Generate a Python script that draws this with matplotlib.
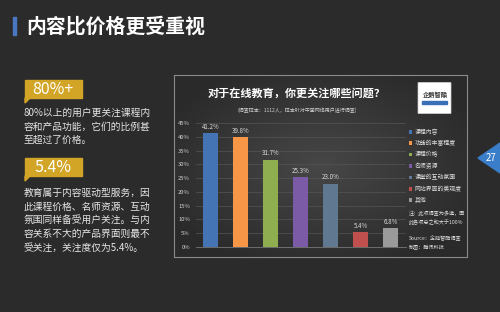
import matplotlib.pyplot as plt
import numpy as np
from matplotlib.patches import Rectangle, Polygon, FancyBboxPatch
from matplotlib.colors import LinearSegmentedColormap

plt.rcParams['font.family'] = ['Noto Sans CJK SC', 'DejaVu Sans']

# data
categories = ['课程内容', '功能的丰富程度', '课程价格', '名师资源', '课堂的互动氛围', '网站界面的美观度', '其他']
values = [41.2, 39.8, 31.7, 25.3, 23.0, 5.4, 6.8]
colors = ['#4574b4', '#f79646', '#8eae4f', '#7b5ba6', '#607890', '#c0504d', '#9a9a9a']
yticks = [0, 5, 10, 15, 20, 25, 30, 35, 40, 45]

W, H = 500, 312
def fx(x): return x / W
def fy(y): return 1 - y / H

fig = plt.figure(figsize=(5, 3.12), dpi=100)
fig.patch.set_facecolor('#2b2b2b')

# title
fig.patches.append(Rectangle((fx(13), fy(35)), 3 / W, 18 / H, transform=fig.transFigure,
                             color='#4a78c0'))
fig.text(fx(26), fy(26), '内容比价格更受重视', color='white', fontsize=14.3,
         fontweight='bold', va='center', ha='left')

# left side text blocks
def gold_tag(y0, txt):
    fig.patches.append(Rectangle((fx(25), fy(y0 + 18)), 57 / W, 18 / H,
                                 transform=fig.transFigure, color='#d3a526'))
    fig.patches.append(Polygon([(fx(25), fy(y0 + 18)), (fx(30), fy(y0 + 18)), (fx(25), fy(y0 + 23))],
                               transform=fig.transFigure, color='#d3a526'))
    fig.text(fx(53), fy(y0 + 9.5), txt, color='white', fontsize=11.5, ha='center', va='center')

gold_tag(80, '80%+')
fig.text(fx(24), fy(108), '80%以上的用户更关注课程内\n容和产品功能，它们的比例甚\n至超过了价格。',
         color='#e6e6e6', fontsize=7, ha='left', va='top', linespacing=1.45)
gold_tag(158, '5.4%')
fig.text(fx(24), fy(188), '教育属于内容驱动型服务，因\n此课程价格、名师资源、互动\n氛围同样备受用户关注。与内\n容关系不大的产品界面则最不\n受关注，关注度仅为5.4%。',
         color='#e6e6e6', fontsize=7, ha='left', va='top', linespacing=1.45)

# chart panel with radial gradient
bg = fig.add_axes([fx(174), fy(257), 293 / W, 182 / H])
gx, gy = np.meshgrid(np.linspace(-1, 1, 200), np.linspace(-1, 1, 120))
r = np.clip(np.sqrt(gx ** 2 + gy ** 2) / 1.2, 0, 1)
panel_cmap = LinearSegmentedColormap.from_list('panel', ['#474747', '#2a2a2a'])
bg.imshow(r, cmap=panel_cmap, vmin=0, vmax=1, aspect='auto', extent=(0, 1, 0, 1))
bg.set_xticks([]); bg.set_yticks([])
for s in bg.spines.values():
    s.set_color('#8a8a8a'); s.set_linewidth(0.8)

fig.text(fx(297), fy(93), '对于在线教育，你更关注哪些问题？', color='white', fontsize=8,
         fontweight='bold', ha='center', va='center')
fig.text(fx(297), fy(110), '(调查样本：1112人，样本针对中国网络用户进行调查)', color='#cfcfcf',
         fontsize=3.6, ha='center', va='center')

# logo box
fig.patches.append(FancyBboxPatch((fx(419), fy(113)), 31 / W, 30 / H, boxstyle='round,pad=0.002',
                                  transform=fig.transFigure, fc='white', ec='#cccccc', lw=0.5))
fig.text(fx(435), fy(95), '企鹅智酷', color='#333333', fontsize=4.5, ha='center', va='center',
         fontweight='bold')
fig.patches.append(Rectangle((fx(422), fy(104)), 25 / W, 3 / H, transform=fig.transFigure,
                             color='#3a6fb5'))

# bar chart
ax = fig.add_axes([fx(195.5), fy(247), 210 / W, 124 / H])
ax.set_facecolor('none')
x = np.arange(len(values))
bars = ax.bar(x, values, width=0.5, color=colors, label=categories, zorder=3)
for xi, v in zip(x, values):
    ax.text(xi, v + 0.9, '%.1f%%' % v, color='#dddddd', fontsize=4.4, ha='center', va='bottom')
ax.set_xlim(-0.5, len(values) - 0.5)
ax.set_ylim(0, 45)
ax.set_yticks(yticks)
ax.set_yticklabels(['%d%%' % t for t in yticks])
ax.tick_params(axis='y', colors='#d0d0d0', labelsize=4.2, length=0, pad=4)
ax.set_xticks([])
ax.grid(axis='y', color='#555555', lw=0.5, zorder=0)
for s in ['top', 'right', 'left']:
    ax.spines[s].set_visible(False)
ax.spines['bottom'].set_color('#777777')
ax.spines['bottom'].set_linewidth(0.6)

leg = ax.legend(handles=list(bars), labels=categories, loc='upper left',
                bbox_to_anchor=(fx(406), fy(126)), bbox_transform=fig.transFigure,
                frameon=False, fontsize=4.2, labelcolor='#dddddd', handlelength=0.6,
                handleheight=0.6, handletextpad=0.4, labelspacing=0.9, borderpad=0)

fig.text(fx(409), fy(211), '注：此项调查为多选，因\n此各项总之和大于100%', color='#dddddd',
         fontsize=3.7, style='italic', ha='left', va='top', linespacing=1.6)
fig.text(fx(409), fy(235), 'Source：企鹅智酷调查\n制图：腾讯科技', color='#dddddd',
         fontsize=3.7, style='italic', ha='left', va='top', linespacing=1.8)

# page number
fig.patches.append(Polygon([(fx(478), fy(158)), (fx(500), fy(143)), (fx(500), fy(173))],
                           transform=fig.transFigure, color='#3a7dc9'))
fig.text(fx(491), fy(158), '27', color='white', fontsize=7, ha='center', va='center')

fig.savefig('out.png', dpi=100, facecolor=fig.get_facecolor())
